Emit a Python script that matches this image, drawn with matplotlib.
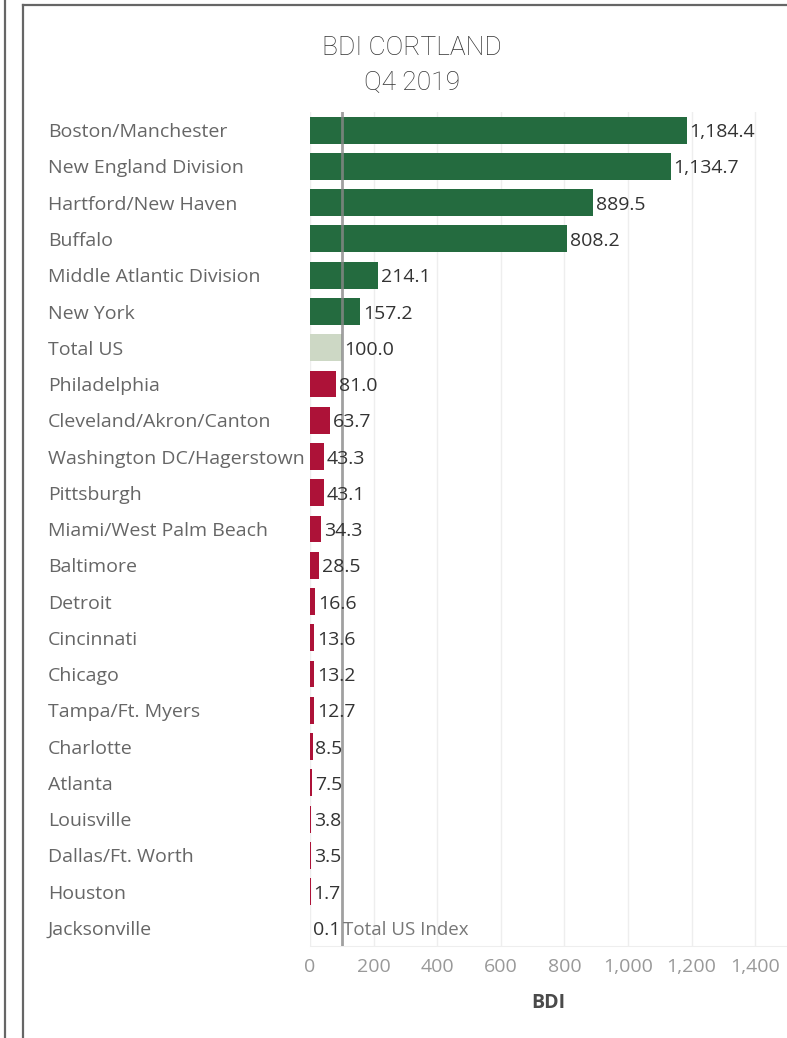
import matplotlib.pyplot as plt
from matplotlib.lines import Line2D

# data
markets = ["Boston/Manchester", "New England Division", "Hartford/New Haven", "Buffalo",
           "Middle Atlantic Division", "New York", "Total US", "Philadelphia",
           "Cleveland/Akron/Canton", "Washington DC/Hagerstown", "Pittsburgh",
           "Miami/West Palm Beach", "Baltimore", "Detroit", "Cincinnati", "Chicago",
           "Tampa/Ft. Myers", "Charlotte", "Atlanta", "Louisville", "Dallas/Ft. Worth",
           "Houston", "Jacksonville"]
bdi = [1184.4, 1134.7, 889.5, 808.2, 214.1, 157.2, 100.0, 81.0, 63.7, 43.3, 43.1,
       34.3, 28.5, 16.6, 13.6, 13.2, 12.7, 8.5, 7.5, 3.8, 3.5, 1.7, 0.1]
x_ticks = [0, 200, 400, 600, 800, 1000, 1200, 1400]
total_us_index = 100

green = "#246b3f"
red = "#ad1238"
base = "#cdd8c5"
colors = [base if m == "Total US" else (green if v > total_us_index else red)
          for m, v in zip(markets, bdi)]

plt.rcParams['font.family'] = ['Open Sans', 'DejaVu Sans']

W, H = 787, 1038
fig = plt.figure(figsize=(W / 100, H / 100), dpi=100)

# dashboard frame lines
fig.add_artist(Line2D([5 / W, 5 / W], [0, 1], color="#666666", lw=1.6))
fig.add_artist(Line2D([23 / W, 23 / W], [0, 1 - 5 / H], color="#666666", lw=1.6))
fig.add_artist(Line2D([23 / W, 1], [1 - 5 / H, 1 - 5 / H], color="#666666", lw=1.6))

left, right, top, bottom = 310, 787, 112, 946
ax = fig.add_axes([left / W, 1 - bottom / H, (right - left) / W, (bottom - top) / H])

y = list(range(len(markets)))
ax.barh(y, bdi, height=0.74, color=colors, zorder=2)
ax.set_ylim(len(markets) - 0.5, -0.5)
ax.set_xlim(0, 1500)

for yi, v in zip(y, bdi):
    ax.annotate(f"{v:,.1f}", (v, yi), xytext=(2, -1.5), textcoords="offset points",
                va="center", ha="left", fontsize=14, color="#333333", zorder=4)

# reference line
ax.axvline(total_us_index, color="#888888", lw=2, alpha=0.8, zorder=3)
ax.annotate("Total US Index", (total_us_index, len(markets) - 1), xytext=(1, -1.5),
            textcoords="offset points", va="center", ha="left", fontsize=13.5,
            color="#777777", zorder=4)

ax.set_xticks(x_ticks)
ax.set_xticklabels([f"{t:,}" for t in x_ticks], fontsize=14, color="#999999")
ax.tick_params(axis="x", length=0, pad=9)
ax.grid(axis="x", color="#eeeeee", lw=1, zorder=0)
ax.set_yticks(y)
ax.set_yticklabels([])
ax.tick_params(axis="y", length=0)
for s in ["top", "right", "left"]:
    ax.spines[s].set_visible(False)
ax.spines["bottom"].set_color("#eeeeee")

for yi, m in zip(y, markets):
    ax.annotate(m, (0, yi), xycoords=("figure fraction", "data"),
                xytext=(48 * 0.72, -1.5), textcoords="offset points",
                va="center", ha="left", fontsize=14, color="#666666")

ax.set_xlabel("BDI", fontsize=14, fontweight="bold", color="#4a4a4a", labelpad=12)

fig.text(412 / W, 1 - 48 / H, "BDI CORTLAND", ha="center", va="center",
         fontsize=19, color="#333333", family=['Roboto', 'DejaVu Sans'], fontweight="light")
fig.text(412 / W, 1 - 83 / H, "Q4 2019", ha="center", va="center",
         fontsize=19, color="#333333", family=['Roboto', 'DejaVu Sans'], fontweight="light")

fig.savefig("out.png", dpi=100)
